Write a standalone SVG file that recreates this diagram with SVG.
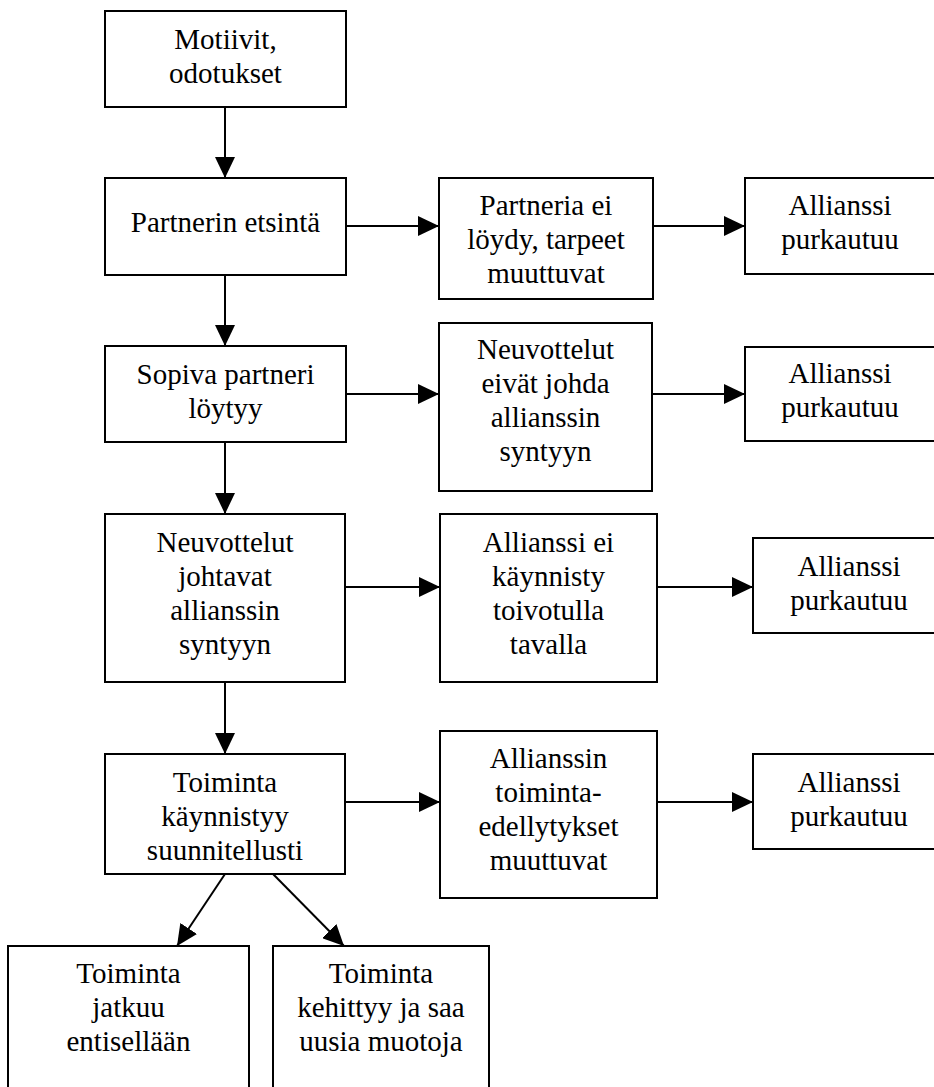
<svg xmlns="http://www.w3.org/2000/svg" width="934" height="1087" viewBox="0 0 934 1087">
<style>
.box{fill:#fff;stroke:#000;stroke-width:2}
.t{font-family:"Liberation Serif","Times New Roman",serif;font-size:29px;fill:#000;text-anchor:middle}
.c{stroke:#000;stroke-width:2;fill:none}
</style>
<defs>
<marker id="ah" markerUnits="userSpaceOnUse" markerWidth="21" markerHeight="20" refX="21" refY="10" orient="auto">
<path d="M0,0 L21,10 L0,20 z" fill="#000"/>
</marker>
</defs>
<rect width="934" height="1087" fill="#fff"/>
<g id="connectors">
<line class="c" x1="225" y1="107" x2="225" y2="178" marker-end="url(#ah)"/>
<line class="c" x1="346" y1="226" x2="439" y2="226" marker-end="url(#ah)"/>
<line class="c" x1="653" y1="226" x2="745" y2="226" marker-end="url(#ah)"/>
<line class="c" x1="225" y1="275" x2="225" y2="346" marker-end="url(#ah)"/>
<line class="c" x1="346" y1="394" x2="439" y2="394" marker-end="url(#ah)"/>
<line class="c" x1="652" y1="394" x2="745" y2="394" marker-end="url(#ah)"/>
<line class="c" x1="225" y1="442" x2="225" y2="514" marker-end="url(#ah)"/>
<line class="c" x1="345" y1="587" x2="440" y2="587" marker-end="url(#ah)"/>
<line class="c" x1="657" y1="587" x2="753" y2="587" marker-end="url(#ah)"/>
<line class="c" x1="225" y1="682" x2="225" y2="754" marker-end="url(#ah)"/>
<line class="c" x1="345" y1="802" x2="440" y2="802" marker-end="url(#ah)"/>
<line class="c" x1="657" y1="802" x2="753" y2="802" marker-end="url(#ah)"/>
<line class="c" x1="225" y1="874" x2="177" y2="946" marker-end="url(#ah)"/>
<line class="c" x1="273" y1="874" x2="344" y2="946" marker-end="url(#ah)"/>
</g>
<g id="n1"><rect class="box" x="105" y="11" width="241" height="96"/>
<text class="t" x="225.5" y="49">Motiivit,</text><text class="t" x="225.5" y="83">odotukset</text></g>
<g id="n2"><rect class="box" x="105" y="178" width="241" height="97"/>
<text class="t" x="225.5" y="232">Partnerin etsintä</text></g>
<g id="n3"><rect class="box" x="439" y="178" width="214" height="121"/>
<text class="t" x="546" y="215">Partneria ei</text><text class="t" x="546" y="249">löydy, tarpeet</text><text class="t" x="546" y="283">muuttuvat</text></g>
<g id="n4"><rect class="box" x="745" y="178" width="200" height="96"/>
<text class="t" x="840" y="215">Allianssi</text><text class="t" x="840" y="249">purkautuu</text></g>
<g id="n5"><rect class="box" x="105" y="346" width="241" height="96"/>
<text class="t" x="225.5" y="384">Sopiva partneri</text><text class="t" x="225.5" y="418">löytyy</text></g>
<g id="n6"><rect class="box" x="439" y="323" width="213" height="168"/>
<text class="t" x="545.5" y="359">Neuvottelut</text><text class="t" x="545.5" y="393">eivät johda</text><text class="t" x="545.5" y="427">allianssin</text><text class="t" x="545.5" y="461">syntyyn</text></g>
<g id="n7"><rect class="box" x="745" y="347" width="200" height="94"/>
<text class="t" x="840" y="383">Allianssi</text><text class="t" x="840" y="417">purkautuu</text></g>
<g id="n8"><rect class="box" x="105" y="514" width="240" height="168"/>
<text class="t" x="225" y="552">Neuvottelut</text><text class="t" x="225" y="586">johtavat</text><text class="t" x="225" y="620">allianssin</text><text class="t" x="225" y="654">syntyyn</text></g>
<g id="n9"><rect class="box" x="440" y="514" width="217" height="168"/>
<text class="t" x="548.5" y="552">Allianssi ei</text><text class="t" x="548.5" y="586">käynnisty</text><text class="t" x="548.5" y="620">toivotulla</text><text class="t" x="548.5" y="654">tavalla</text></g>
<g id="n10"><rect class="box" x="753" y="538" width="192" height="95"/>
<text class="t" x="849" y="576">Allianssi</text><text class="t" x="849" y="610">purkautuu</text></g>
<g id="n11"><rect class="box" x="105" y="754" width="240" height="120"/>
<text class="t" x="225" y="792">Toiminta</text><text class="t" x="225" y="826">käynnistyy</text><text class="t" x="225" y="860">suunnitellusti</text></g>
<g id="n12"><rect class="box" x="440" y="731" width="217" height="167"/>
<text class="t" x="548.5" y="768">Allianssin</text><text class="t" x="548.5" y="802">toiminta-</text><text class="t" x="548.5" y="836">edellytykset</text><text class="t" x="548.5" y="870">muuttuvat</text></g>
<g id="n13"><rect class="box" x="753" y="754" width="192" height="95"/>
<text class="t" x="849" y="792">Allianssi</text><text class="t" x="849" y="826">purkautuu</text></g>
<g id="n14"><rect class="box" x="8" y="946" width="241" height="150"/>
<text class="t" x="128.5" y="983">Toiminta</text><text class="t" x="128.5" y="1017">jatkuu</text><text class="t" x="128.5" y="1051">entisellään</text></g>
<g id="n15"><rect class="box" x="273" y="946" width="216" height="150"/>
<text class="t" x="381" y="983">Toiminta</text><text class="t" x="381" y="1017">kehittyy ja saa</text><text class="t" x="381" y="1051">uusia muotoja</text></g>
</svg>
